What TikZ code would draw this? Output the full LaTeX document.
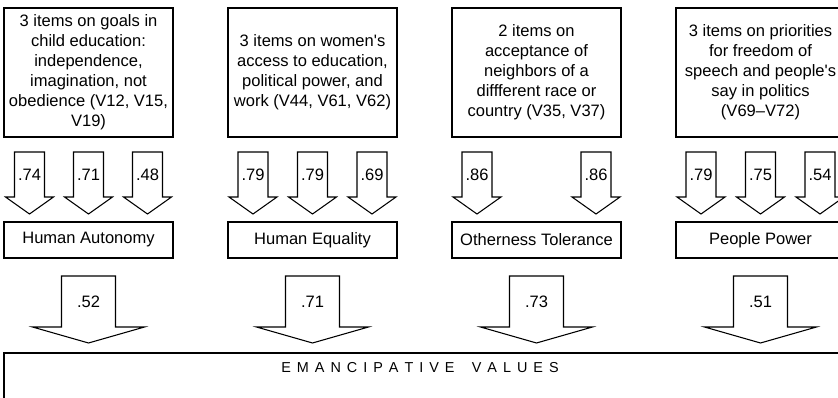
\documentclass[tikz,border=0pt]{standalone}
\usepackage{fontspec}
\setmainfont{Liberation Sans}
\newcommand\lsp{\hspace{4.5pt}}
\newcommand\wsp{\hspace{13pt}}
\newcommand\blockarr[8]{% name, x, top, shaft bottom, tip, half shaft, half head, label
  \draw[arr] (#2-#6,#3) -- (#2+#6,#3) -- (#2+#6,#4) -- (#2+#7,#4) -- (#2,#5)
    -- (#2-#7,#4) -- (#2-#6,#4) -- cycle;
  \node[lbl] (#1) at (#2,{(#3+#4)/2}) {#8};}
\begin{document}
\begin{tikzpicture}[x=0.75pt,y=-0.75pt,
  txt/.style={font=\fontsize{12.4}{15}\selectfont},
  box/.style={txt,draw,line width=1.5pt,align=center,inner sep=0pt},
  topbox/.style={box,minimum width=126.75pt,minimum height=96.75pt},
  facbox/.style={box,minimum width=126.75pt,minimum height=27pt},
  arr/.style={draw,line width=0.8pt,fill=white,line join=miter},
  lbl/.style={txt,inner sep=0pt}]
\useasboundingbox (0,0) rectangle (838,397);
\clip (0,0) rectangle (838,397);

% top boxes
\node[topbox] (t1) at (88.5,72.5) {3 items on goals in\\child education:\\independence,\\imagination, not\\obedience (V12, V15,\\V19)};
\node[topbox] (t2) at (312.5,72.5) {3 items on women\textquotesingle s\\access to education,\\political power, and\\work (V44, V61, V62)};
\node[topbox] (t3) at (536.5,72.5) {2 items on\\acceptance of\\neighbors of a\\diffferent race or\\country (V35, V37)};
\node[topbox] (t4) at (760.5,72.5) {3 items on priorities\\for freedom of\\speech and people\textquotesingle s\\say in politics\\(V69--V72)};

% factor boxes
\node[facbox] (f1) at (88.5,240) {Human Autonomy};
\node[facbox] (f2) at (312.5,240) {Human Equality};
\node[facbox] (f3) at (536.5,240) {Otherness Tolerance};
\node[facbox] (f4) at (760.5,240) {People Power};

% small arrows
\blockarr{a11}{29.5}{152}{197}{214}{15}{24}{.74}
\blockarr{a12}{88.5}{152}{197}{214}{15}{24}{.71}
\blockarr{a13}{147.5}{152}{197}{214}{15}{24}{.48}
\blockarr{a21}{253}{152}{197}{214}{15}{24}{.79}
\blockarr{a22}{312.5}{152}{197}{214}{15}{24}{.79}
\blockarr{a23}{372}{152}{197}{214}{15}{24}{.69}
\blockarr{a31}{477}{152}{197}{214}{15}{24}{.86}
\blockarr{a32}{596}{152}{197}{214}{15}{24}{.86}
\blockarr{a41}{701}{152}{197}{214}{15}{24}{.79}
\blockarr{a42}{760.5}{152}{197}{214}{15}{24}{.75}
\blockarr{a43}{820}{152}{197}{214}{15}{24}{.54}

% big arrows
\blockarr{b1}{88.5}{276}{327}{343}{27}{56}{.52}
\blockarr{b2}{312.5}{276}{327}{343}{27}{56}{.71}
\blockarr{b3}{536.5}{276}{327}{343}{27}{56}{.73}
\blockarr{b4}{760.5}{276}{327}{343}{27}{56}{.51}

% bottom box
\draw[line width=1.5pt] (4,420) -- (4,353) -- (850,353);
\node[inner sep=0pt,font=\fontsize{10.8}{12}\selectfont] (ev) at (420,368)
  {E\lsp M\lsp A\lsp N\lsp C\lsp I\lsp P\lsp A\lsp T\lsp I\lsp V\lsp E\wsp V\lsp A\lsp L\lsp U\lsp E\lsp S};
\end{tikzpicture}
\end{document}
